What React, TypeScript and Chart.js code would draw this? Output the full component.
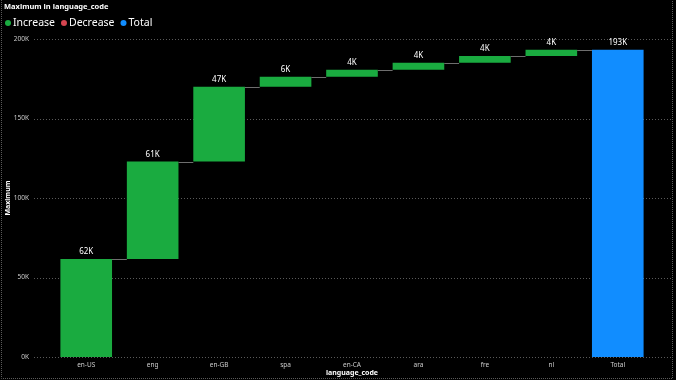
import { useEffect, useRef } from 'react';
import { Chart, registerables } from 'chart.js';

Chart.register(...registerables);

const categories = ['en-US', 'eng', 'en-GB', 'spa', 'en-CA', 'ara', 'fre', 'nl', 'Total'];
const changes = [61600, 61300, 47100, 6300, 4400, 4400, 4200, 4000];
const yTicks = [0, 50000, 100000, 150000, 200000];
const legendLabels = ['Increase', 'Decrease', 'Total'];
const legendColors = ['#1AAB40', '#D64550', '#118DFF'];

const FONT = '"Segoe UI", "Noto Sans", "DejaVu Sans", sans-serif';

function fmtK(v: number) {
  return Math.round(v / 1000) + 'K';
}

export default function App() {
  const ref = useRef<HTMLCanvasElement | null>(null);

  useEffect(() => {
    document.body.style.margin = '0';
    document.body.style.background = '#000';
    const canvas = ref.current;
    if (!canvas) return;

    const floating: [number, number][] = [];
    let cum = 0;
    changes.forEach((c) => {
      floating.push([cum, cum + c]);
      cum += c;
    });
    floating.push([0, cum]);
    const colors = categories.map((_, i) => (i === categories.length - 1 ? legendColors[2] : legendColors[0]));
    const labelValues = [...changes, cum];

    const decor = {
      id: 'decor',
      beforeDatasetsDraw(chart: any) {
        const { ctx } = chart;
        const y = chart.scales.y;
        ctx.save();
        ctx.strokeStyle = '#5a5a5a';
        ctx.lineWidth = 1;
        ctx.setLineDash([1, 2]);
        yTicks.forEach((t) => {
          const py = Math.round(y.getPixelForValue(t)) + 0.5;
          ctx.beginPath();
          ctx.moveTo(34, py);
          ctx.lineTo(671, py);
          ctx.stroke();
        });
        ctx.restore();
      },
      afterDatasetsDraw(chart: any) {
        const { ctx } = chart;
        const meta = chart.getDatasetMeta(0);
        const y = chart.scales.y;
        ctx.save();
        ctx.strokeStyle = '#6e6e6e';
        ctx.lineWidth = 1;
        for (let i = 0; i < meta.data.length - 1; i++) {
          const a = meta.data[i];
          const b = meta.data[i + 1];
          const level = floating[i][1];
          const py = Math.round(y.getPixelForValue(level)) + 0.5;
          ctx.beginPath();
          ctx.moveTo(a.x + a.width / 2, py);
          ctx.lineTo(b.x - b.width / 2, py);
          ctx.stroke();
        }
        ctx.fillStyle = '#ffffff';
        ctx.font = `8px ${FONT}`;
        ctx.textAlign = 'center';
        ctx.textBaseline = 'bottom';
        meta.data.forEach((el: any, i: number) => {
          const top = Math.min(el.y, el.base);
          ctx.fillText(fmtK(labelValues[i]), el.x, top - 3);
        });
        ctx.restore();
      },
      afterDraw(chart: any) {
        const { ctx } = chart;
        ctx.save();
        ctx.fillStyle = '#ffffff';
        ctx.font = `bold 7.5px ${FONT}`;
        ctx.textAlign = 'left';
        ctx.textBaseline = 'middle';
        ctx.fillText('Maximum in language_code', 4, 7);
        let x = 5;
        ctx.font = `10.5px ${FONT}`;
        legendLabels.forEach((l, i) => {
          ctx.fillStyle = legendColors[i];
          ctx.beginPath();
          ctx.arc(x + 3, 23, 3, 0, Math.PI * 2);
          ctx.fill();
          ctx.fillStyle = '#ffffff';
          ctx.fillText(l, x + 8, 23);
          x += 8 + ctx.measureText(l).width + 6;
        });
        ctx.strokeStyle = '#5a5a5a';
        ctx.setLineDash([1, 1]);
        ctx.beginPath();
        ctx.moveTo(1.5, 0);
        ctx.lineTo(1.5, 378.5);
        ctx.lineTo(672.5, 378.5);
        ctx.lineTo(672.5, 0);
        ctx.stroke();
        ctx.restore();
      },
    };

    const chart = new Chart(canvas, {
      type: 'bar',
      data: {
        labels: categories,
        datasets: [
          {
            data: floating as any,
            backgroundColor: colors,
            borderWidth: 0,
            categoryPercentage: 1,
            barPercentage: 0.777,
          },
        ],
      },
      options: {
        responsive: false,
        animation: false,
        maintainAspectRatio: false,
        layout: { padding: { top: 39, right: 25, left: 0, bottom: 0 } },
        plugins: { legend: { display: false }, tooltip: { enabled: false }, title: { display: false } },
        scales: {
          x: {
            grid: { display: false, drawTicks: false },
            border: { display: false },
            ticks: { color: '#cccccc', font: { size: 6.5, family: FONT }, padding: 4, maxRotation: 0, autoSkip: false },
            title: {
              display: true,
              text: 'language_code',
              color: '#ffffff',
              font: { size: 7, family: FONT, weight: 'bold' },
              padding: { top: 0, bottom: 3 },
            },
            afterFit(scale: any) {
              scale.height = 23;
              scale.paddingLeft = 0;
              scale.paddingRight = 0;
            },
          },
          y: {
            min: 0,
            max: 200000,
            afterBuildTicks(scale: any) {
              scale.ticks = yTicks.map((v) => ({ value: v }));
            },
            grid: { display: false, drawTicks: false },
            border: { display: false },
            ticks: {
              color: '#cccccc',
              font: { size: 6.5, family: FONT },
              padding: 24,
              callback: (v: any) => fmtK(Number(v)),
            },
            title: {
              display: true,
              text: 'Maximum',
              color: '#ffffff',
              font: { size: 7, family: FONT, weight: 'bold' },
              padding: { top: 4, bottom: 0 },
            },
            afterFit(scale: any) {
              scale.width = 53;
              scale.paddingTop = 0;
              scale.paddingBottom = 0;
            },
          },
        },
      },
      plugins: [decor],
    });

    return () => chart.destroy();
  }, []);

  return (
    <div style={{ width: 676, height: 380, background: '#000' }}>
      <canvas ref={ref} width={676} height={380} style={{ display: 'block', width: 676, height: 380 }} />
    </div>
  );
}
